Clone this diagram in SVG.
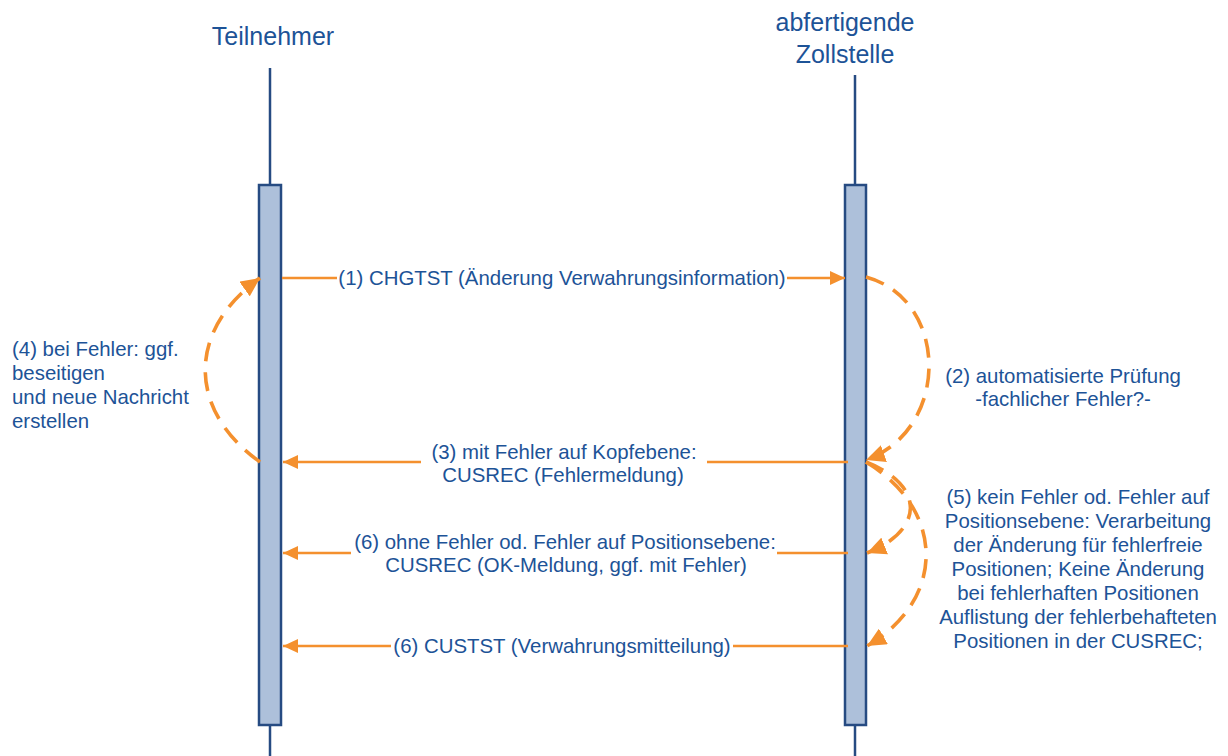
<svg xmlns="http://www.w3.org/2000/svg" width="1228" height="756" viewBox="0 0 1228 756">
<style>
.t{font-family:"Liberation Sans",Arial,sans-serif;font-size:20.4px;fill:#1d5397}
.h{font-family:"Liberation Sans",Arial,sans-serif;font-size:25px;fill:#1d5397}
.life{stroke:#264b82;stroke-width:2.5;fill:none}
.bar{fill:#adc0da;stroke:#264b82;stroke-width:2.5}
.msg{stroke:#f4902e;stroke-width:2.5;fill:none}
.dash{stroke:#f4902e;stroke-width:3.6;fill:none;stroke-dasharray:19 11}
.bg{fill:#ffffff}
</style>
<defs>
<marker id="ah" markerUnits="userSpaceOnUse" markerWidth="16" markerHeight="14" refX="15" refY="7" orient="auto">
<path d="M0,0 L15,7 L0,14 z" fill="#f4902e"/>
</marker>
<marker id="ahd" markerUnits="userSpaceOnUse" markerWidth="20" markerHeight="18" refX="19" refY="9" orient="auto">
<path d="M0,0 L19,9 L0,18 z" fill="#f4902e"/>
</marker>
</defs>
<g id="teilnehmer">
<text class="h" x="273" y="45" text-anchor="middle">Teilnehmer</text>
<line class="life" x1="270" y1="68" x2="270" y2="185"/>
<line class="life" x1="270" y1="726" x2="270" y2="756"/>
<rect class="bar" x="259" y="185" width="22" height="540"/>
</g>
<g id="zollstelle">
<text class="h" x="845" y="31" text-anchor="middle">abfertigende</text>
<text class="h" x="845" y="63" text-anchor="middle">Zollstelle</text>
<line class="life" x1="855" y1="75" x2="855" y2="185"/>
<line class="life" x1="855" y1="726" x2="855" y2="756"/>
<rect class="bar" x="845" y="185" width="21" height="540"/>
</g>
<g id="connectors">
<line class="msg" x1="282" y1="278" x2="845" y2="278" marker-end="url(#ah)"/>
<rect class="bg" x="337" y="266" width="450" height="24"/>
<text class="t" x="562" y="285" text-anchor="middle">(1) CHGTST (Änderung Verwahrungsinformation)</text>

<path class="dash" d="M866,277 C950,300 950,430 866,460" marker-end="url(#ahd)"/>

<line class="msg" x1="848" y1="462" x2="283" y2="462" marker-end="url(#ah)"/>
<rect class="bg" x="421" y="440" width="286" height="46"/>
<text class="t" x="564" y="459" text-anchor="middle">(3) mit Fehler auf Kopfebene:</text>
<text class="t" x="563" y="482" text-anchor="middle">CUSREC (Fehlermeldung)</text>

<path class="dash" d="M260,462 C187,410 187,330 260,278" marker-end="url(#ahd)"/>

<path class="dash" d="M866,462 C925,485 925,530 867,553" marker-end="url(#ahd)"/>
<path class="dash" d="M866,462 C946,510 946,600 867,646" marker-end="url(#ahd)"/>

<line class="msg" x1="848" y1="553" x2="283" y2="553" marker-end="url(#ah)"/>
<rect class="bg" x="351" y="531" width="426" height="46"/>
<text class="t" x="565" y="549" text-anchor="middle">(6) ohne Fehler od. Fehler auf Positionsebene:</text>
<text class="t" x="566" y="572" text-anchor="middle">CUSREC (OK-Meldung, ggf. mit Fehler)</text>

<line class="msg" x1="848" y1="646" x2="283" y2="646" marker-end="url(#ah)"/>
<rect class="bg" x="391" y="634" width="342" height="24"/>
<text class="t" x="562" y="653" text-anchor="middle">(6) CUSTST (Verwahrungsmitteilung)</text>
</g>
<g id="label4">
<text class="t" x="12" y="356">(4) bei Fehler: ggf.</text>
<text class="t" x="12" y="380">beseitigen</text>
<text class="t" x="12" y="404">und neue Nachricht</text>
<text class="t" x="12" y="428">erstellen</text>
</g>
<g id="label2">
<text class="t" x="1063" y="383" text-anchor="middle">(2) automatisierte Prüfung</text>
<text class="t" x="1063" y="406" text-anchor="middle">-fachlicher Fehler?-</text>
</g>
<g id="label5">
<text class="t" x="1078" y="504" text-anchor="middle">(5) kein Fehler od. Fehler auf</text>
<text class="t" x="1078" y="528" text-anchor="middle">Positionsebene: Verarbeitung</text>
<text class="t" x="1078" y="552" text-anchor="middle">der Änderung für fehlerfreie</text>
<text class="t" x="1078" y="576" text-anchor="middle">Positionen; Keine Änderung</text>
<text class="t" x="1078" y="600" text-anchor="middle">bei fehlerhaften Positionen</text>
<text class="t" x="1078" y="624" text-anchor="middle">Auflistung der fehlerbehafteten</text>
<text class="t" x="1078" y="648" text-anchor="middle">Positionen in der CUSREC;</text>
</g>
</svg>
